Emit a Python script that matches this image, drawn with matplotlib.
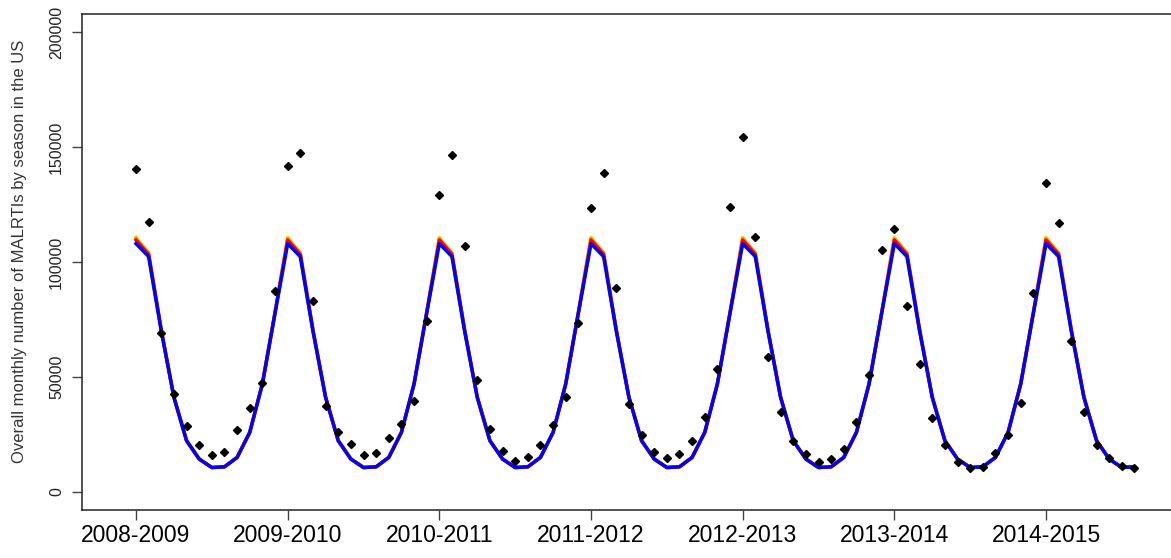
import matplotlib.pyplot as plt
import numpy as np

plt.rcParams['font.family'] = ['Liberation Sans', 'DejaVu Sans']

# observed monthly counts, 2008-2009 .. 2014-2015 (last season partial)
observed = [
    140700, 117400, 69000, 42600, 28400, 20400, 15900, 17200, 26800, 36600, 47100, 87400,
    141900, 147500, 83000, 37500, 26100, 20700, 16000, 17000, 23300, 29400, 39600, 74300,
    129200, 146600, 107100, 48800, 27300, 17500, 13400, 15200, 20300, 29000, 41400, 73600,
    123300, 138700, 88700, 38300, 24600, 17300, 14600, 16300, 22000, 32500, 53500, 124000,
    154600, 110800, 58500, 34500, 22200, 16300, 12700, 14000, 18500, 30200, 51000, 105100,
    114300, 80700, 55400, 32100, 20400, 13000, 10200, 10900, 16900, 24600, 38800, 86500,
    134500, 117100, 65600, 34800, 20400, 14700, 11200, 10500,
]

# fitted curves
fit_blue = [
    108000, 102400, 70000, 41100, 22200, 14200, 10500, 10800, 14900, 25800, 46900, 77700,
    108000, 102400, 70000, 41100, 22200, 14200, 10500, 10800, 14900, 25800, 46900, 77700,
    108000, 102400, 70000, 41100, 22200, 14200, 10500, 10800, 14900, 25800, 46900, 77700,
    108000, 102400, 70000, 41100, 22200, 14200, 10500, 10800, 14900, 25800, 46900, 77700,
    108000, 102400, 70000, 41100, 22200, 14200, 10500, 10800, 14900, 25800, 46900, 77700,
    108000, 102400, 70000, 41100, 22200, 14200, 10500, 10800, 14900, 25800, 46900, 77700,
    108000, 102400, 70000, 41100, 22200, 14200, 10500, 10800,
]
fit_red = [
    109600, 103300, 70300, 41100, 22200, 14200, 10500, 10800, 14900, 25800, 46900, 77900,
    109600, 103300, 70300, 41100, 22200, 14200, 10500, 10800, 14900, 25800, 46900, 77900,
    109600, 103300, 70300, 41100, 22200, 14200, 10500, 10800, 14900, 25800, 46900, 77900,
    109600, 103300, 70300, 41100, 22200, 14200, 10500, 10800, 14900, 25800, 46900, 77900,
    109600, 103300, 70300, 41100, 22200, 14200, 10500, 10800, 14900, 25800, 46900, 77900,
    109600, 103300, 70300, 41100, 22200, 14200, 10500, 10800, 14900, 25800, 46900, 77900,
    109600, 103300, 70300, 41100, 22200, 14200, 10500, 10800,
]
fit_orange = [
    110400, 104000, 70600, 41100, 22200, 14200, 10500, 10800, 14900, 25800, 46900, 78100,
    110400, 104000, 70600, 41100, 22200, 14200, 10500, 10800, 14900, 25800, 46900, 78100,
    110400, 104000, 70600, 41100, 22200, 14200, 10500, 10800, 14900, 25800, 46900, 78100,
    110400, 104000, 70600, 41100, 22200, 14200, 10500, 10800, 14900, 25800, 46900, 78100,
    110400, 104000, 70600, 41100, 22200, 14200, 10500, 10800, 14900, 25800, 46900, 78100,
    110400, 104000, 70600, 41100, 22200, 14200, 10500, 10800, 14900, 25800, 46900, 78100,
    110400, 104000, 70600, 41100, 22200, 14200, 10500, 10800,
]
fit_yellow = [
    110900, 101300, 69500, 41000, 22200, 14200, 10500, 10800, 14900, 25800, 47000, 78300,
    110900, 101300, 69500, 41000, 22200, 14200, 10500, 10800, 14900, 25800, 47000, 78300,
    110900, 101300, 69500, 41000, 22200, 14200, 10500, 10800, 14900, 25800, 47000, 78300,
    110900, 101300, 69500, 41000, 22200, 14200, 10500, 10800, 14900, 25800, 47000, 78300,
    110900, 101300, 69500, 41000, 22200, 14200, 10500, 10800, 14900, 25800, 47000, 78300,
    110900, 101300, 69500, 41000, 22200, 14200, 10500, 10800, 14900, 25800, 47000, 78300,
    110900, 101300, 69500, 41000, 22200, 14200, 10500, 10800,
]

seasons = ['2008-2009', '2009-2010', '2010-2011', '2011-2012',
           '2012-2013', '2013-2014', '2014-2015']
season_start = [1, 13, 25, 37, 49, 61, 73]

months = np.arange(1, len(observed) + 1)

fig = plt.figure(figsize=(11.71, 5.58), dpi=100)
# axes runs past the right edge, like the cropped original
ax = fig.add_axes([82 / 1171, 48 / 558, 1108 / 1171, 496 / 558])

ax.plot(months, fit_yellow, color='yellow', lw=2.5)
ax.plot(months, fit_orange, color='orange', lw=2.5)
ax.plot(months, fit_red, color='red', lw=2.5)
ax.plot(months, fit_blue, color='blue', lw=2.5)
ax.plot(months, observed, 'D', color='black', ms=4.2, zorder=5)

ax.set_xlim(1 - 54 / 12.639, 1 + 1054 / 12.639)
ax.set_ylim(-8000, 208000)

ax.set_xticks(season_start)
ax.set_xticklabels(seasons, fontsize=16.5)
ax.set_yticks([0, 50000, 100000, 150000, 200000])
ax.set_yticklabels(['0', '50000', '100000', '150000', '200000'],
                   rotation=90, va='center', fontsize=11.5, color='#222222')
ax.tick_params(axis='y', length=7, width=1, pad=6, color='#444444')
ax.tick_params(axis='x', length=7, width=1, pad=3, color='#444444')
for s in ax.spines.values():
    s.set_linewidth(1.1)
    s.set_color('#222222')

ax.set_ylabel('Overall monthly number of MALRTIs by season in the US',
              fontsize=12, color='#333333', labelpad=16)
ax.yaxis.label.set_y(0.522)

plt.savefig('out.png', dpi=100)
